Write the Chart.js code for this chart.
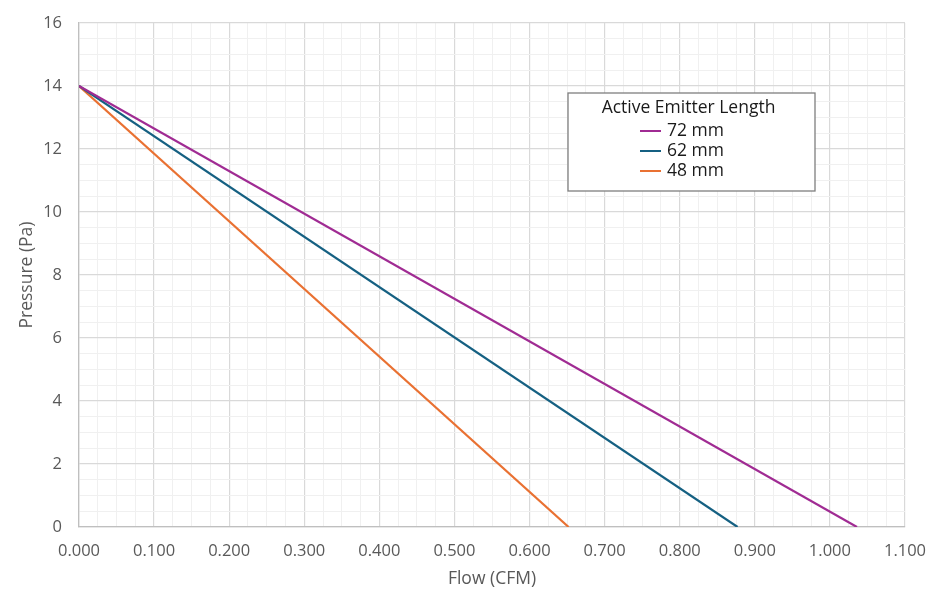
<!DOCTYPE html>
<html>
<head>
<meta charset="utf-8">
<script src="https://cdn.jsdelivr.net/npm/chart.js@4/dist/chart.umd.min.js"></script>
<style>
  html, body { margin: 0; padding: 0; background: #fff; }
  #wrap { width: 936px; height: 599px; position: relative; }
</style>
</head>
<body>
<div id="wrap"><canvas id="chart" width="936" height="599"></canvas></div>
<script>
// flow (CFM) vs pressure (Pa)
const seriesNames = ["72 mm", "62 mm", "48 mm"];
const seriesColors = ["#A02B93", "#156082", "#E97132"];
const flow72 = [0, 1.036];
const press72 = [14, 0];
const flow62 = [0, 0.877];
const press62 = [14, 0];
const flow48 = [0, 0.652];
const press48 = [14, 0];
const legendTitle = "Active Emitter Length";

const toPoints = (xs, ys) => xs.map((x, i) => ({ x, y: ys[i] }));

const majorGrid = "#d9d9d9";
const minorGrid = "#f0f0f0";
const textColor = "#595959";
const font = "'Open Sans', sans-serif";

// legend box drawn inside the plot area
const boxLegend = {
  id: "boxLegend",
  afterDraw(chart) {
    const ctx = chart.ctx;
    const x = 568, y = 93, w = 247, h = 98;
    ctx.save();
    ctx.fillStyle = "#fff";
    ctx.fillRect(x, y, w, h);
    ctx.strokeStyle = "#7f7f7f";
    ctx.lineWidth = 1.3;
    ctx.strokeRect(x, y, w, h);
    ctx.fillStyle = "#1a1a1a";
    ctx.font = "17.5px " + font;
    ctx.textAlign = "center";
    ctx.textBaseline = "middle";
    ctx.fillText(legendTitle, x + w / 2 - 3, y + 15);
    ctx.textAlign = "left";
    chart.data.datasets.forEach((ds, i) => {
      const ly = y + 38 + i * 20;
      ctx.strokeStyle = ds.borderColor;
      ctx.lineWidth = 2;
      ctx.beginPath();
      ctx.moveTo(640, ly);
      ctx.lineTo(661, ly);
      ctx.stroke();
      ctx.fillText(ds.label, 667, ly);
    });
    ctx.restore();
  }
};

new Chart(document.getElementById("chart"), {
  type: "scatter",
  data: {
    datasets: [
      { label: seriesNames[0], data: toPoints(flow72, press72), borderColor: seriesColors[0] },
      { label: seriesNames[1], data: toPoints(flow62, press62), borderColor: seriesColors[1] },
      { label: seriesNames[2], data: toPoints(flow48, press48), borderColor: seriesColors[2] }
    ].map(d => ({ ...d, showLine: true, borderWidth: 2.2, pointRadius: 0, fill: false }))
  },
  options: {
    responsive: false,
    animation: false,
    devicePixelRatio: 1,
    layout: { padding: { top: 23, right: 31, left: 0, bottom: 0 } },
    plugins: { legend: { display: false }, tooltip: { enabled: false } },
    scales: {
      x: {
        type: "linear",
        min: 0,
        max: 1.1,
        ticks: {
          stepSize: 0.025,
          autoSkip: false,
          maxRotation: 0,
          padding: 14,
          color: textColor,
          font: { family: font, size: 16.5 },
          callback: (v, i) => (i % 4 === 0 ? v.toFixed(3) : "")
        },
        grid: {
          drawTicks: false,
          color: c => (c.index % 4 === 0 ? majorGrid : minorGrid),
          lineWidth: c => (c.index % 4 === 0 ? 1.2 : 1)
        },
        border: { color: "#bfbfbf", width: 1.3 },
        title: {
          display: true,
          text: "Flow (CFM)",
          color: textColor,
          font: { family: font, size: 17.5 },
          padding: { top: 0, bottom: 9 }
        },
        afterFit: s => { s.height = 72; s.paddingLeft = 0; s.paddingRight = 0; }
      },
      y: {
        min: 0,
        max: 16,
        ticks: {
          stepSize: 0.5,
          autoSkip: false,
          padding: 17,
          color: textColor,
          font: { family: font, size: 16.5 },
          callback: (v, i) => (i % 4 === 0 ? String(v) : "")
        },
        grid: {
          drawTicks: false,
          color: c => (c.index % 4 === 0 ? majorGrid : minorGrid),
          lineWidth: c => (c.index % 4 === 0 ? 1.2 : 1)
        },
        border: { color: "#bfbfbf", width: 1.3 },
        title: {
          display: true,
          text: "Pressure (Pa)",
          color: textColor,
          font: { family: font, size: 17.5 },
          padding: { top: 17, bottom: 17 }
        },
        afterFit: s => { s.width = 79; s.paddingTop = 0; s.paddingBottom = 0; }
      }
    }
  },
  plugins: [boxLegend]
});
</script>
</body>
</html>
